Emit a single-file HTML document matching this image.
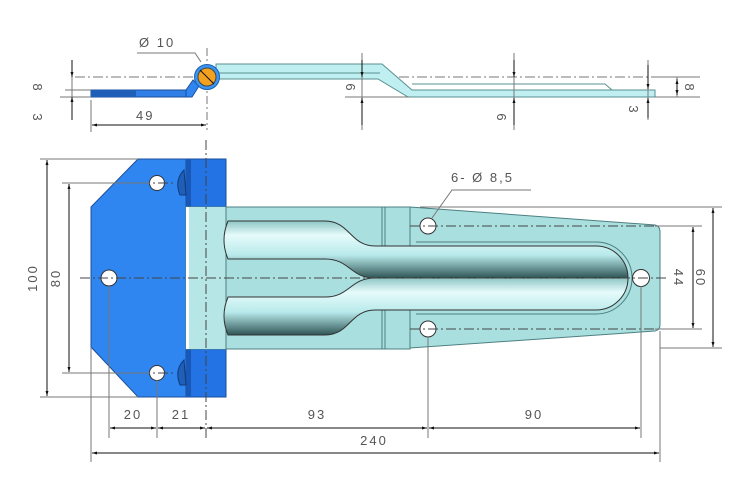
<!DOCTYPE html>
<html><head><meta charset="utf-8"><style>
html,body{margin:0;padding:0;background:#fff}
svg{display:block}
text{font-family:"Liberation Sans",sans-serif;font-size:13px;fill:#555;letter-spacing:2px}
</style></head><body>
<svg width="750" height="500" viewBox="0 0 750 500" xmlns="http://www.w3.org/2000/svg">
<defs>
<linearGradient id="tu" x1="0" y1="0" x2="0" y2="1">
<stop offset="0" stop-color="#8fc6c6"/><stop offset="0.25" stop-color="#e6fbfb"/><stop offset="0.6" stop-color="#b8e9ea"/><stop offset="1" stop-color="#2f5556"/></linearGradient>
<marker id="a" viewBox="0 0 10 10" refX="10" refY="5" markerWidth="7" markerHeight="5" orient="auto-start-reverse"><path d="M0,2 L10,5 L0,8Z" fill="#111"/></marker>
</defs>
<g stroke="#777" stroke-width="1" fill="none">
<line x1="75" y1="77" x2="665" y2="77" stroke-dasharray="10,3,2,3"/>
<line x1="207" y1="48" x2="207" y2="130" stroke-dasharray="8,3,2,3"/>
</g>
<path d="M216,64 H382 L412,90 H655 V97 H408 L378,79 H216Z" fill="#bfeff0" stroke="#5a8f90" stroke-width="1"/>
<line x1="216" y1="73" x2="380" y2="73" stroke="#5a8f90"/>
<line x1="412" y1="90" x2="605" y2="90" stroke="#5a8f90"/>
<path d="M412,84 H605 L612,90" fill="none" stroke="#5a8f90"/>
<rect x="91" y="90" width="95" height="7" fill="#2f7fe6" stroke="#1d4f9a"/>
<rect x="91" y="90" width="45" height="7" fill="#1f5fb8"/>
<path d="M186,90 L193,80 L199,86 L192,97 H186Z" fill="#2f86f0" stroke="#1d4f9a"/>
<circle cx="207" cy="77" r="12.5" fill="#3a95f2" stroke="#1d5fb0"/>
<circle cx="207" cy="77" r="9" fill="#f2a21e" stroke="#444"/>
<line x1="200" y1="70" x2="214" y2="84" stroke="#111"/>
<g stroke="#777" fill="none">
<path d="M137,53 H195 L201,62"/>
<line x1="72" y1="60" x2="72" y2="120"/>
<line x1="60" y1="97" x2="91" y2="97"/>
<line x1="65" y1="90" x2="91" y2="90"/>
<line x1="91" y1="100" x2="91" y2="132"/>
<line x1="362" y1="53" x2="362" y2="130"/>
<line x1="345" y1="97" x2="410" y2="97"/>
<line x1="514" y1="53" x2="514" y2="130"/>
<line x1="648" y1="60" x2="648" y2="120"/>
<line x1="677" y1="77" x2="677" y2="97"/>
<line x1="655" y1="97" x2="700" y2="97"/>
<line x1="660" y1="77" x2="700" y2="77"/>
</g>
<g stroke="#111" stroke-width="1" fill="none">
<line x1="72" y1="60" x2="72" y2="77" marker-end="url(#a)"/>
<line x1="72" y1="120" x2="72" y2="97" marker-end="url(#a)"/>
<line x1="92" y1="125" x2="206" y2="125" marker-start="url(#a)" marker-end="url(#a)"/>
<line x1="362" y1="60" x2="362" y2="77" marker-end="url(#a)"/>
<line x1="362" y1="125" x2="362" y2="98" marker-end="url(#a)"/>
<line x1="514" y1="60" x2="514" y2="77" marker-end="url(#a)"/>
<line x1="514" y1="125" x2="514" y2="98" marker-end="url(#a)"/>
<line x1="648" y1="65" x2="648" y2="89" marker-end="url(#a)"/>
<line x1="648" y1="118" x2="648" y2="98" marker-end="url(#a)"/>
<line x1="677" y1="79" x2="677" y2="95" marker-start="url(#a)" marker-end="url(#a)"/>
</g>
<text x="139" y="47">Ø 10</text>
<text x="136" y="120">49</text>
<text transform="translate(33,88) rotate(90)" text-anchor="middle">8</text>
<text transform="translate(33,118) rotate(90)" text-anchor="middle">3</text>
<text transform="translate(346,88) rotate(90)" text-anchor="middle">6</text>
<text transform="translate(497,118) rotate(90)" text-anchor="middle">6</text>
<text transform="translate(629,110) rotate(90)" text-anchor="middle">3</text>
<text transform="translate(685,88) rotate(90)" text-anchor="middle">8</text>

<path d="M138,159 H226 V397 H138 L91,347 V207Z" fill="#2f86f0" stroke="#1d4f9a"/>
<rect x="186" y="159" width="40" height="238" fill="#2373e4" stroke="#1a4f9e"/>
<rect x="186" y="159" width="5" height="238" fill="#1a58b8"/>
<rect x="186" y="207" width="224" height="142" fill="#aadfdf" stroke="#4d7f80"/>
<rect x="186" y="207" width="3" height="142" fill="#fff"/>
<rect x="189" y="207" width="37" height="142" fill="#b6e6e6"/>
<path d="M410,207 L655,225 Q660,226 660,232 V325 Q660,330 655,331 L410,348Z" fill="#aadfdf" stroke="#4d7f80"/>
<line x1="226" y1="207" x2="226" y2="349" stroke="#4d7f80"/>
<line x1="382" y1="207" x2="382" y2="349" stroke="#4d7f80"/>
<line x1="385" y1="207" x2="385" y2="349" stroke="#4d7f80"/>
<line x1="410" y1="207" x2="410" y2="348" stroke="#4d7f80"/>
<path d="M416,242 H596 A36,36 0 0 1 596,314 H416" fill="none" stroke="#4d7f80"/>
<path d="M228,221 H325 C350,221 350,246 375,246 H596 A32,32 0 0 1 628,278 H375 C350,278 350,259 325,259 H228 Q220,240 228,221Z" fill="url(#tu)" stroke="#333"/>
<path d="M228,297 H325 C350,297 350,278 375,278 H628 A32,32 0 0 1 596,310 H375 C350,310 350,335 325,335 H228 Q220,316 228,297Z" fill="url(#tu)" stroke="#333"/>
<path d="M184,170 Q174,180 180,195 L186,195Z M184,360 Q174,370 180,385 L186,385Z" fill="#1f5fb8" stroke="#0f3b80"/>
<g fill="#fff" stroke="#333">
<circle cx="157" cy="183" r="7.5"/><circle cx="157" cy="373" r="7.5"/><circle cx="109" cy="278" r="8"/>
<circle cx="428" cy="226" r="8"/><circle cx="428" cy="329" r="8"/><circle cx="641" cy="278" r="8.5"/>
</g>
<g stroke="#444" fill="none" stroke-dasharray="10,3,2,3">
<line x1="80" y1="278" x2="667" y2="278"/>
<line x1="206" y1="140" x2="206" y2="440"/>
<line x1="140" y1="183" x2="175" y2="183"/><line x1="140" y1="373" x2="175" y2="373"/>
<line x1="410" y1="226" x2="655" y2="226"/><line x1="410" y1="329" x2="655" y2="329"/>
</g>
<g stroke="#777" fill="none">
<line x1="40" y1="159" x2="138" y2="159"/><line x1="40" y1="397" x2="138" y2="397"/>
<line x1="62" y1="183" x2="150" y2="183"/><line x1="62" y1="373" x2="150" y2="373"/>
<line x1="109" y1="285" x2="109" y2="438"/><line x1="157" y1="380" x2="157" y2="438"/>
<line x1="91" y1="347" x2="91" y2="462"/><line x1="428" y1="337" x2="428" y2="438"/>
<line x1="641" y1="286" x2="641" y2="438"/><line x1="660" y1="331" x2="660" y2="462"/>
<line x1="655" y1="207" x2="722" y2="207"/><line x1="660" y1="348" x2="722" y2="348"/>
<line x1="655" y1="226" x2="702" y2="226"/><line x1="655" y1="329" x2="702" y2="329"/>
<line x1="420" y1="207" x2="655" y2="207"/>
<path d="M432,218 L452,190 H531"/>
</g>
<g stroke="#111" fill="none">
<line x1="47" y1="160" x2="47" y2="396" marker-start="url(#a)" marker-end="url(#a)"/>
<line x1="69" y1="184" x2="69" y2="372" marker-start="url(#a)" marker-end="url(#a)"/>
<line x1="693" y1="227" x2="693" y2="328" marker-start="url(#a)" marker-end="url(#a)"/>
<line x1="713" y1="208" x2="713" y2="347" marker-start="url(#a)" marker-end="url(#a)"/>
<line x1="110" y1="428" x2="156" y2="428" marker-start="url(#a)" marker-end="url(#a)"/>
<line x1="158" y1="428" x2="205" y2="428" marker-start="url(#a)" marker-end="url(#a)"/>
<line x1="207" y1="428" x2="427" y2="428" marker-start="url(#a)" marker-end="url(#a)"/>
<line x1="429" y1="428" x2="640" y2="428" marker-start="url(#a)" marker-end="url(#a)"/>
<line x1="92" y1="453" x2="659" y2="453" marker-start="url(#a)" marker-end="url(#a)"/>
</g>
<text x="451" y="182">6- Ø 8,5</text>
<text transform="translate(37,278) rotate(-90)" text-anchor="middle">100</text>
<text transform="translate(60,278) rotate(-90)" text-anchor="middle">80</text>
<text transform="translate(674,278) rotate(90)" text-anchor="middle">44</text>
<text transform="translate(696,278) rotate(90)" text-anchor="middle">60</text>
<text x="133" y="419" text-anchor="middle">20</text>
<text x="181" y="419" text-anchor="middle">21</text>
<text x="317" y="419" text-anchor="middle">93</text>
<text x="534" y="419" text-anchor="middle">90</text>
<text x="374" y="445" text-anchor="middle">240</text>
</svg>
</body></html>
